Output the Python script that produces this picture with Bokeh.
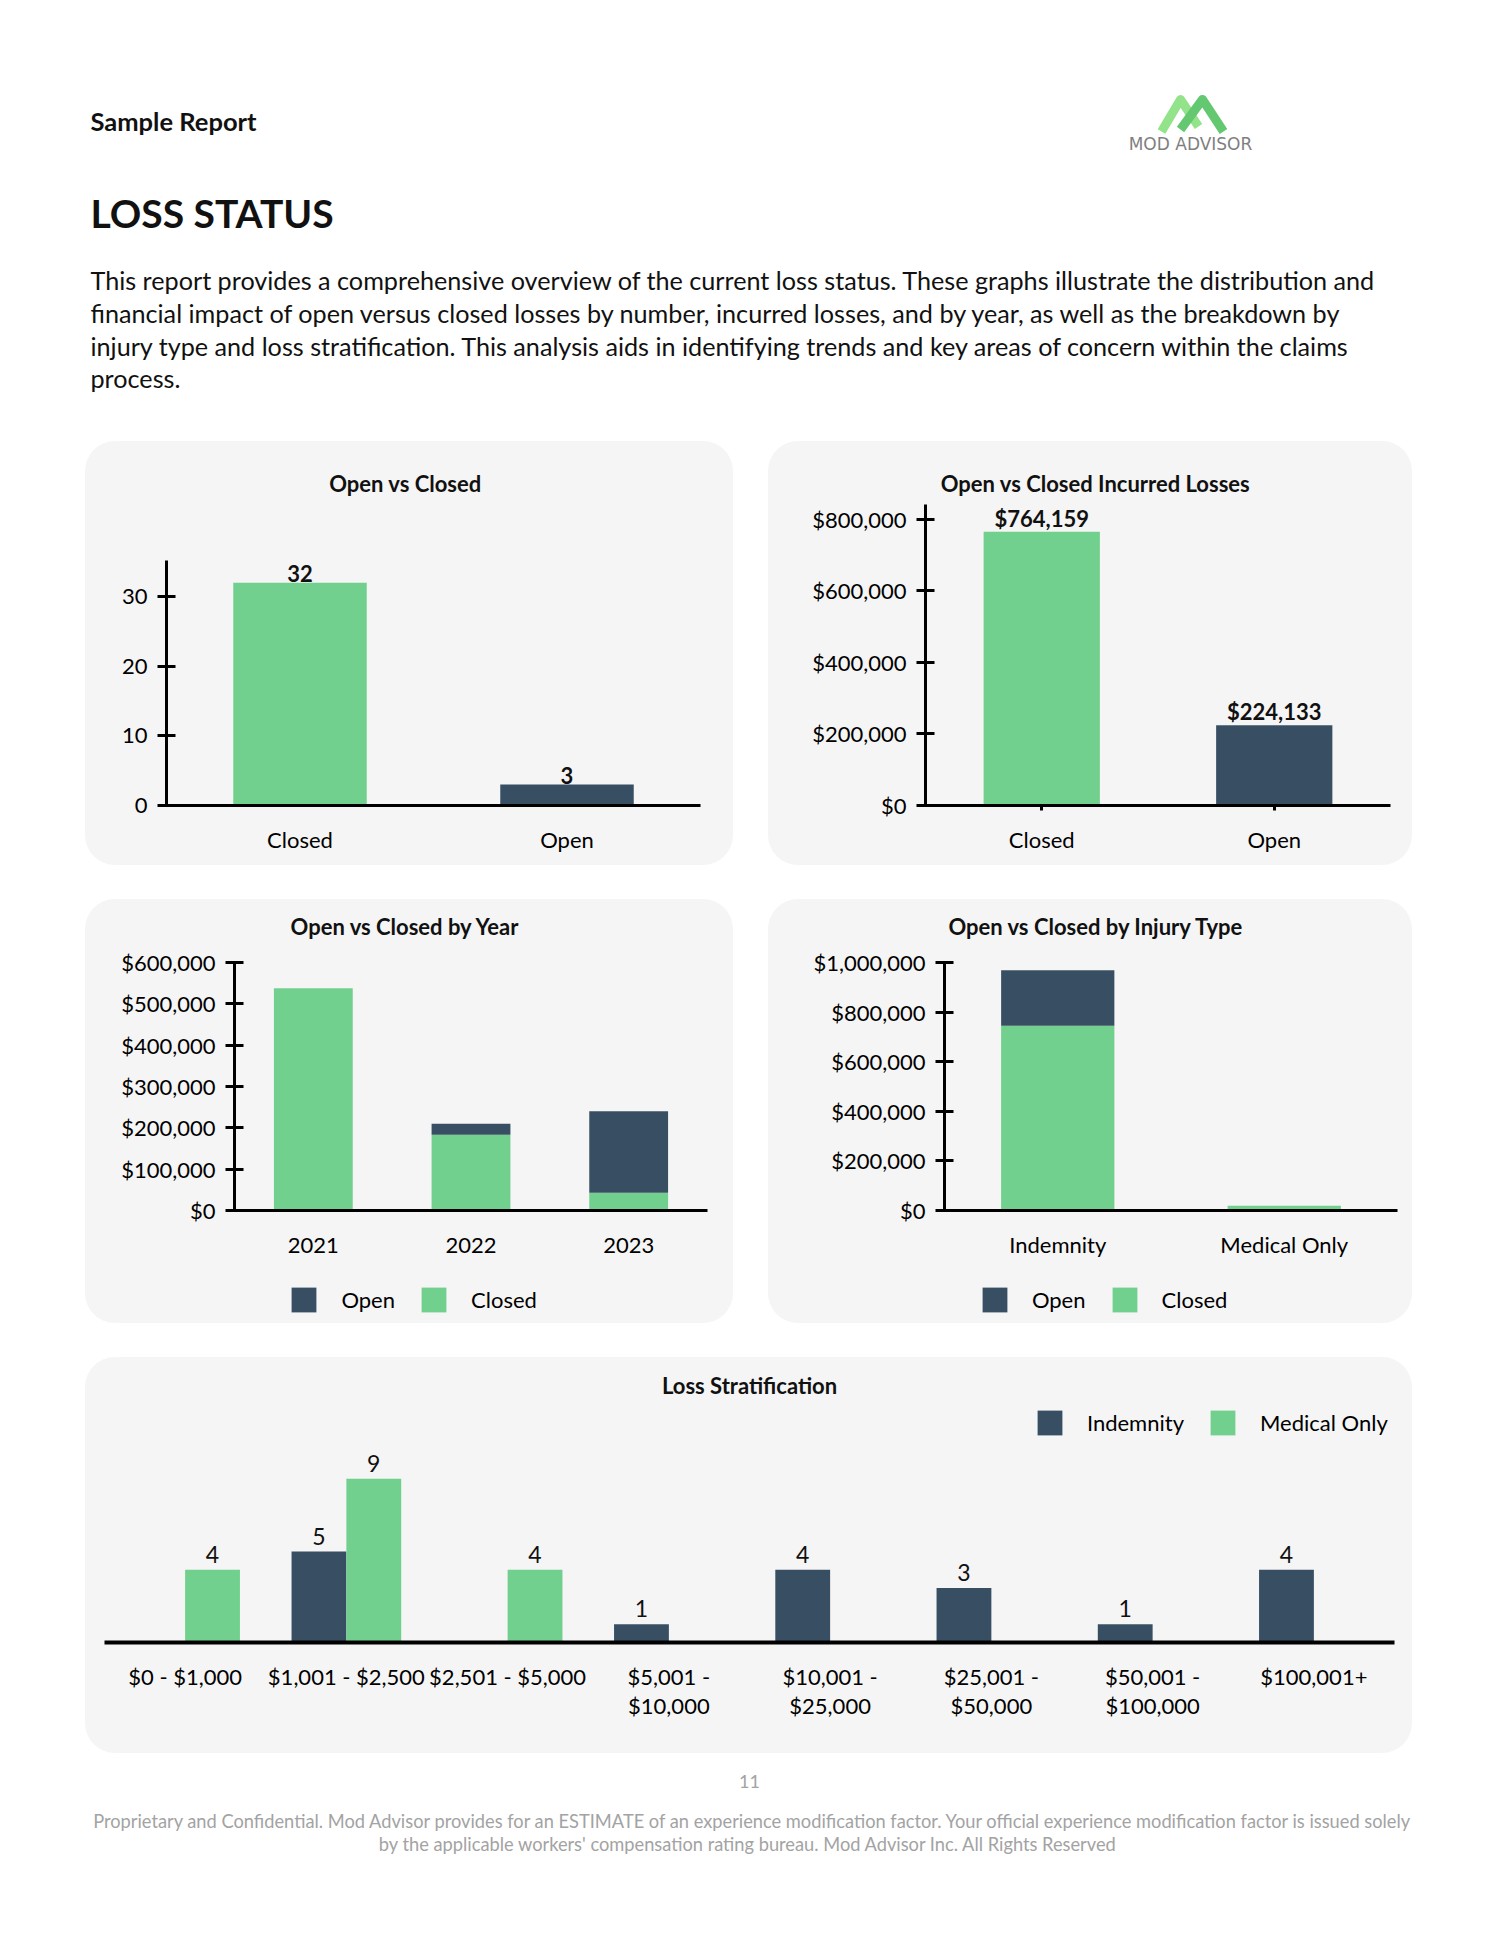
from bokeh.plotting import figure
from bokeh.models import (Range1d, FactorRange, ColumnDataSource, LabelSet, Label, Legend,
                          LegendItem, SingleIntervalTicker, NumeralTickFormatter, Spacer)
from bokeh.layouts import column, row
from bokeh.transform import dodge
from bokeh.core.properties import value
from bokeh.embed import file_html
from bokeh.resources import INLINE

# ---------------- data ----------------
oc_categories = ["Closed", "Open"]
oc_counts = [32, 3]

inc_categories = ["Closed", "Open"]
inc_values = [764159, 224133]

years = ["2021", "2022", "2023"]
year_closed = [538000, 183000, 43159]
year_open = [0, 27000, 197133]

injury_types = ["Indemnity", "Medical Only"]
injury_closed = [745000, 19159]
injury_open = [224133, 0]

strat_bins = ["$0 - $1,000", "$1,001 - $2,500", "$2,501 - $5,000", "$5,001 -\n$10,000",
              "$10,001 -\n$25,000", "$25,001 -\n$50,000", "$50,001 -\n$100,000", "$100,001+"]
strat_indemnity = [0, 5, 0, 1, 4, 3, 1, 4]
strat_medical = [4, 9, 4, 0, 0, 0, 0, 0]

# ---------------- style ----------------
GREEN = "#71d08d"
DARK = "#384f63"
PANEL = "#f5f5f5"
FONT = "Lato"
TXT = "#111111"
PANEL_STYLE = {"background-color": PANEL, "border-radius": "30px"}
NAN = float("nan")


def base_fig(w, h, **kw):
    p = figure(width=w, height=h, output_backend="svg", toolbar_location=None, **kw)
    p.frame_align = False
    p.outline_line_color = None
    p.background_fill_color = None
    p.border_fill_color = None
    return p


def chart_fig(w, h, L, T, Rb, B, factors, y_range, **kw):
    p = base_fig(w, h, x_range=FactorRange(*factors), y_range=y_range,
                 min_border_left=L, min_border_top=T, min_border_right=Rb, min_border_bottom=B, **kw)
    p.grid.visible = False
    return p


def text_fig(w, h, px0, py0):
    return base_fig(w, h, x_range=Range1d(px0, px0 + w), y_range=Range1d(py0 + h, py0),
                    x_axis_type=None, y_axis_type=None, min_border=0)


def title_label(f, x, y, text):
    f.add_layout(Label(x=x, y=y, text=text, text_font=FONT, text_font_size="22px",
                       text_font_style="bold", text_align="center", text_baseline="middle",
                       text_color=TXT))


def legend_in(f, labels, colors, loc):
    items = []
    for lab, col in zip(labels, colors):
        # key-only renderer: a single NaN point draws nothing but gives the legend its swatch
        r = f.vbar(x=[NAN], top=[NAN], width=1, fill_color=col, line_color=None)
        items.append(LegendItem(label=lab, renderers=[r]))
    f.add_layout(Legend(items=items, location=loc, orientation="horizontal",
                        glyph_width=31, glyph_height=31, label_standoff=22, spacing=23,
                        padding=0, margin=0, border_line_color=None, background_fill_alpha=0,
                        label_text_font=FONT, label_text_font_size="22px",
                        label_text_color="black"))


def style_axis(ax, tick_in, tick_out, standoff, lw=3):
    ax.axis_line_width = lw
    ax.axis_line_color = "black"
    ax.major_tick_line_width = lw
    ax.major_tick_line_color = "black" if (tick_in or tick_out) else None
    ax.major_tick_in = tick_in
    ax.major_tick_out = tick_out
    ax.minor_tick_line_color = None
    ax.major_label_text_font = FONT
    ax.major_label_text_font_size = "22px"
    ax.major_label_text_color = "black"
    ax.major_label_standoff = standoff


# ---------------- panel 1: Open vs Closed ----------------
t1 = text_fig(648, 59, 85, 441)
title_label(t1, 405, 483, "Open vs Closed")
p1 = chart_fig(648, 365, 81, 60, 33, 60, oc_categories, Range1d(0, max(oc_counts) * 1.1))
src1 = ColumnDataSource(dict(cat=oc_categories, val=oc_counts, color=[GREEN, DARK],
                             lab=[str(v) for v in oc_counts]))
p1.vbar(x="cat", top="val", width=0.5, fill_color="color", line_color=None, source=src1)
p1.add_layout(LabelSet(x="cat", y="val", text="lab", source=src1, text_align="center",
                       text_baseline="bottom", y_offset=1, text_font=value(FONT),
                       text_font_style="bold", text_font_size="22px", text_color=TXT))
p1.yaxis.ticker = SingleIntervalTicker(interval=10)
style_axis(p1.yaxis[0], 9, 9, 10)
style_axis(p1.xaxis[0], 0, 0, 20)

# ---------------- panel 2: Incurred losses ----------------
t2 = text_fig(644, 59, 768, 441)
title_label(t2, 1095, 483, "Open vs Closed Incurred Losses")
p2 = chart_fig(644, 365, 157, 4, 22, 60, inc_categories, Range1d(0, max(inc_values) * 1.1))
src2 = ColumnDataSource(dict(cat=inc_categories, val=inc_values, color=[GREEN, DARK],
                             lab=["${:,.0f}".format(v) for v in inc_values]))
p2.vbar(x="cat", top="val", width=0.5, fill_color="color", line_color=None, source=src2)
p2.add_layout(LabelSet(x="cat", y="val", text="lab", source=src2, text_align="center",
                       text_baseline="bottom", text_font=value(FONT), text_font_style="bold",
                       text_font_size="22px", text_color=TXT))
p2.yaxis.ticker = SingleIntervalTicker(interval=200000)
p2.yaxis.formatter = NumeralTickFormatter(format="$0,0")
style_axis(p2.yaxis[0], 9, 9, 10)
style_axis(p2.xaxis[0], 0, 5, 15)

# ---------------- panel 3: by year ----------------
t3 = text_fig(648, 46, 85, 899)
title_label(t3, 405, 926, "Open vs Closed by Year")
p3 = chart_fig(648, 323, 149, 17, 26, 58, years, Range1d(0, 600000))
src3 = ColumnDataSource(dict(year=years, Closed=year_closed, Open=year_open))
p3.vbar_stack(["Closed", "Open"], x="year", width=0.5, fill_color=[GREEN, DARK],
              line_color=None, source=src3)
p3.yaxis.ticker = SingleIntervalTicker(interval=100000)
p3.yaxis.formatter = NumeralTickFormatter(format="$0,0")
style_axis(p3.yaxis[0], 9, 9, 10)
style_axis(p3.xaxis[0], 0, 0, 27)
l3 = text_fig(648, 55, 85, 1268)
legend_in(l3, ["Open", "Closed"], [DARK, GREEN], (203.4, 8.2))

# ---------------- panel 4: by injury type ----------------
t4 = text_fig(644, 46, 768, 899)
title_label(t4, 1096, 926, "Open vs Closed by Injury Type")
p4 = chart_fig(644, 323, 176, 17, 15, 58, injury_types, Range1d(0, 1000000))
src4 = ColumnDataSource(dict(typ=injury_types, Closed=injury_closed, Open=injury_open))
p4.vbar_stack(["Closed", "Open"], x="typ", width=0.5, fill_color=[GREEN, DARK],
              line_color=None, source=src4)
p4.yaxis.ticker = SingleIntervalTicker(interval=200000)
p4.yaxis.formatter = NumeralTickFormatter(format="$0,0")
style_axis(p4.yaxis[0], 9, 9, 10)
style_axis(p4.xaxis[0], 0, 0, 20)
l4 = text_fig(644, 55, 768, 1268)
legend_in(l4, ["Open", "Closed"], [DARK, GREEN], (210.9, 8.2))

# ---------------- panel 5: loss stratification ----------------
t5 = text_fig(1327, 83, 85, 1357)
title_label(t5, 749, 1385, "Loss Stratification")
legend_in(t5, ["Indemnity", "Medical Only"], [DARK, GREEN], (948.9, 1.7))
p5 = chart_fig(1327, 313, 19, 0, 18, 111, strat_bins, Range1d(0, 11.1), y_axis_location=None)
src5 = ColumnDataSource(dict(bin=strat_bins, ind=strat_indemnity, med=strat_medical))
p5.vbar(x=dodge("bin", -0.17, range=p5.x_range), top="ind", width=0.34,
        fill_color=DARK, line_color=None, source=src5)
p5.vbar(x=dodge("bin", 0.17, range=p5.x_range), top="med", width=0.34,
        fill_color=GREEN, line_color=None, source=src5)
ind_nz = [(b, v) for b, v in zip(strat_bins, strat_indemnity) if v]
med_nz = [(b, v) for b, v in zip(strat_bins, strat_medical) if v]
for nz, off in ((ind_nz, -0.17), (med_nz, 0.17)):
    s = ColumnDataSource(dict(bin=[b for b, _ in nz], val=[v for _, v in nz],
                              lab=[str(v) for _, v in nz]))
    p5.add_layout(LabelSet(x=dodge("bin", off, range=p5.x_range), y="val", text="lab", source=s,
                           text_align="center", text_baseline="bottom", y_offset=7,
                           text_font=value(FONT), text_font_size="23px", text_color=TXT))
style_axis(p5.xaxis[0], 0, 0, 20, lw=4)
p5.xaxis.major_label_text_line_height = 1.1

# ---------------- header ----------------
hdr = base_fig(1484, 433, x_range=Range1d(8, 1492), y_range=Range1d(441, 8),
               x_axis_type=None, y_axis_type=None, min_border=0)


def hdr_label(x, y, text, size, bold=False, color=TXT, align="left", font=FONT):
    hdr.add_layout(Label(x=x, y=y, text=text, text_font=font, text_font_size=size,
                         text_font_style="bold" if bold else "normal", text_color=color,
                         text_align=align, text_baseline="middle"))


hdr_label(90, 120, "Sample Report", "25.5px", bold=True)
hdr_label(90, 212, "LOSS STATUS", "39px", bold=True)
para = [
    "This report provides a comprehensive overview of the current loss status. These graphs illustrate the distribution and",
    "financial impact of open versus closed losses by number, incurred losses, and by year, as well as the breakdown by",
    "injury type and loss stratification. This analysis aids in identifying trends and key areas of concern within the claims",
    "process.",
]
for i, line in enumerate(para):
    hdr_label(90, 279.5 + i * 32.8, line, "25.2px")

# logo
hdr.line([1161, 1180, 1198], [131, 99, 126], line_width=9, line_color="#93e38b", line_join="round")
hdr.line([1180, 1202, 1223], [129, 99, 131], line_width=9, line_color="#63c86f", line_join="round")
hdr_label(1190, 143, "MOD ADVISOR", "17px", color="#7f7f7f", align="center", font="DejaVu Sans")

# ---------------- footer ----------------
ftr = base_fig(1484, 179, x_range=Range1d(8, 1492), y_range=Range1d(1932, 1753),
               x_axis_type=None, y_axis_type=None, min_border=0)
GRAY = "#a3a3a3"
for x, y, t, fs in [(749, 1781, "11", "18px"),
                    (753, 1820, "Proprietary and Confidential. Mod Advisor provides for an ESTIMATE of an experience modification factor. Your official experience modification factor is issued solely", "18.25px"),
                    (748, 1843, "by the applicable workers' compensation rating bureau. Mod Advisor Inc. All Rights Reserved", "18.25px")]:
    ftr.add_layout(Label(x=x, y=y, text=t, text_font=FONT, text_font_size=fs, text_color=GRAY,
                         text_align="center", text_baseline="middle"))

page = column(
    hdr,
    row(Spacer(width=77, height=424), column(t1, p1, styles=PANEL_STYLE),
        Spacer(width=35, height=424), column(t2, p2, styles=PANEL_STYLE)),
    Spacer(width=1484, height=34),
    row(Spacer(width=77, height=424), column(t3, p3, l3, styles=PANEL_STYLE),
        Spacer(width=35, height=424), column(t4, p4, l4, styles=PANEL_STYLE)),
    Spacer(width=1484, height=34),
    row(Spacer(width=77, height=396), column(t5, p5, styles=PANEL_STYLE)),
    ftr,
)
layout = row(Spacer(width=8, height=1932), column(Spacer(width=1484, height=8), page))

open("out.html", "w").write(file_html(layout, INLINE, title="Loss Status"))
